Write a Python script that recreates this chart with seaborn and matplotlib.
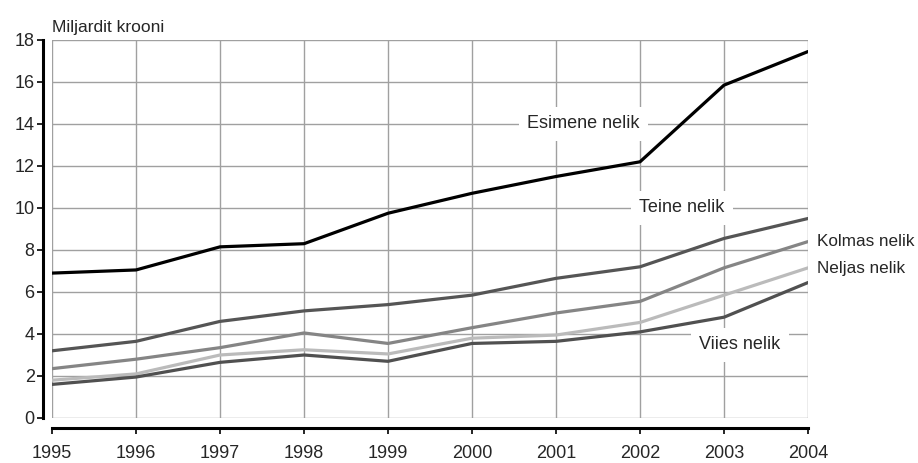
import pandas as pd
import matplotlib.pyplot as plt
import seaborn as sns

years = list(range(1995, 2005))
esimene = [6.9, 7.05, 8.15, 8.3, 9.75, 10.7, 11.5, 12.2, 15.85, 17.45]
teine = [3.2, 3.65, 4.6, 5.1, 5.4, 5.85, 6.65, 7.2, 8.55, 9.5]
kolmas = [2.35, 2.8, 3.35, 4.05, 3.55, 4.3, 5.0, 5.55, 7.15, 8.4]
neljas = [1.8, 2.1, 3.0, 3.25, 3.05, 3.8, 3.95, 4.55, 5.85, 7.15]
viies = [1.6, 1.95, 2.65, 3.0, 2.7, 3.55, 3.65, 4.1, 4.8, 6.45]

names = ["Esimene nelik", "Teine nelik", "Kolmas nelik", "Neljas nelik", "Viies nelik"]
series = [esimene, teine, kolmas, neljas, viies]
colors = ["#000000", "#555555", "#858585", "#bbbbbb", "#505050"]

df = pd.DataFrame(
    [(n, y, v) for n, vals in zip(names, series) for y, v in zip(years, vals)],
    columns=["grupp", "aasta", "vaartus"],
)

sns.set_style("white")
plt.rcParams["font.family"] = ["Liberation Sans", "DejaVu Sans"]

fig = plt.figure(figsize=(9.18, 4.63), dpi=100)
ax = fig.add_axes([52 / 918, 45 / 463, 756 / 918, 378 / 463])

ax.grid(True, color="#a0a0a0", linewidth=1.0, zorder=0)
ax.set_axisbelow(True)

sns.lineplot(data=df, x="aasta", y="vaartus", hue="grupp", hue_order=names,
             palette=dict(zip(names, colors)), linewidth=2.3, legend=False,
             ax=ax, zorder=3)

ax.set_xlim(1995, 2004)
ax.set_ylim(0, 18)
ax.set_xticks(years)
ax.set_yticks(range(0, 19, 2))
ax.set_xlabel("")
ax.set_ylabel("")

for s in ["top", "right"]:
    ax.spines[s].set_visible(False)
ax.spines["left"].set_position(("outward", 6.5))
ax.spines["bottom"].set_position(("outward", 7.2))
ax.spines["left"].set_linewidth(2.2)
ax.spines["bottom"].set_linewidth(2.2)
ax.spines["left"].set_color("black")
ax.spines["bottom"].set_color("black")
ax.tick_params(axis="both", which="both", direction="out", length=4, width=1.2,
               color="black", labelsize=13, left=True, bottom=True)
ax.tick_params(axis="x", pad=8)
ax.tick_params(axis="y", pad=2)

ax.text(0, 1.012, "Miljardit krooni", transform=ax.transAxes, fontsize=12.5,
        ha="left", va="bottom")

box = dict(facecolor="white", edgecolor="none", pad=6)
ax.text(2001.33, 14.0, "Esimene nelik", fontsize=13, ha="center", va="center",
        bbox=box, zorder=2)
ax.text(2002.5, 10.0, "Teine nelik", fontsize=13, ha="center", va="center",
        bbox=box, zorder=2)
ax.text(2003.19, 3.48, "Viies nelik", fontsize=13, ha="center", va="center",
        bbox=box, zorder=2)
ax.text(2004.11, 8.4, "Kolmas nelik", fontsize=12.3, ha="left", va="center",
        clip_on=False)
ax.text(2004.11, 7.1, "Neljas nelik", fontsize=12.3, ha="left", va="center",
        clip_on=False)

fig.savefig("out.png", dpi=100)
